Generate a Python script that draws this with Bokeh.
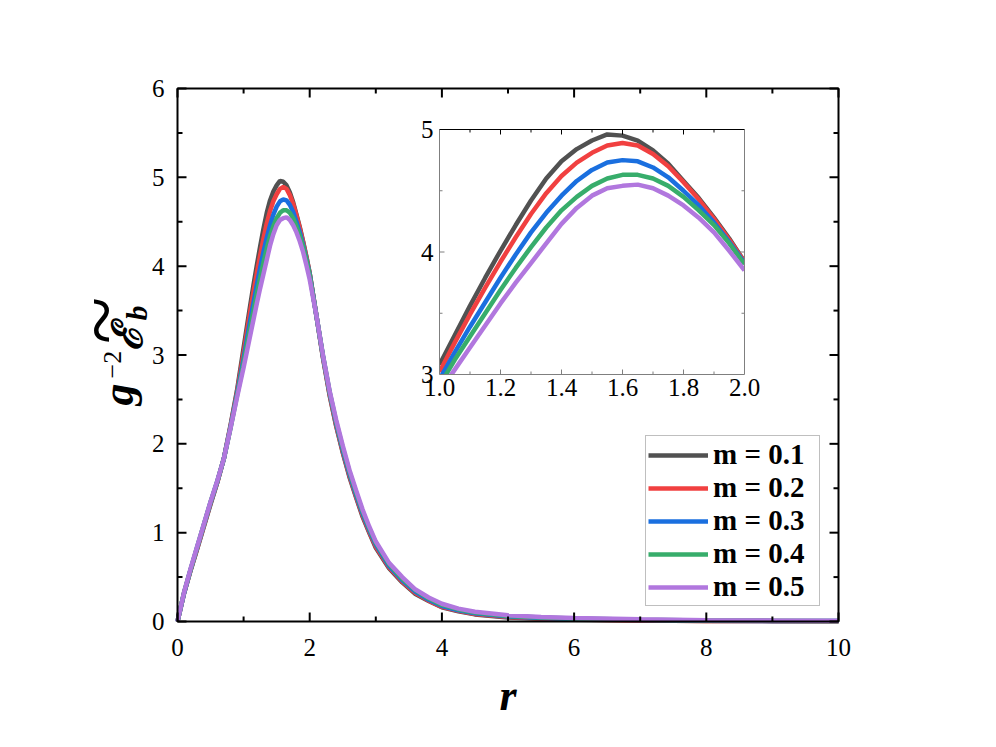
import math
from bokeh.plotting import figure
from bokeh.models import Legend, LegendItem, Range1d
from bokeh.core.properties import value
from bokeh.embed import file_html
from bokeh.resources import INLINE

# ---------------- data ----------------
r = [0, 0.1, 0.2, 0.3, 0.4, 0.5, 0.6, 0.7, 0.8, 0.9,
     1.0, 1.05, 1.1, 1.15, 1.2, 1.25, 1.3, 1.35, 1.4, 1.45,
     1.5, 1.55, 1.6, 1.65, 1.7, 1.75, 1.8, 1.85, 1.9, 1.95,
     2.0, 2.1, 2.2, 2.3, 2.4, 2.5, 2.6, 2.7, 2.8, 2.9,
     3.0, 3.2, 3.4, 3.6, 3.8, 4.0, 4.25, 4.5, 5.0, 5.5,
     6.0, 7.0, 8.0, 9.0, 10.0]

m01 = [0, 0.32, 0.58, 0.82, 1.07, 1.32, 1.56, 1.83, 2.20, 2.60,
       3.08, 3.32, 3.56, 3.79, 4.01, 4.22, 4.42, 4.60, 4.74, 4.84,
       4.91, 4.96, 4.95, 4.91, 4.83, 4.72, 4.58, 4.44, 4.28, 4.11,
       3.92, 3.45, 2.97, 2.55, 2.20, 1.90, 1.63, 1.40, 1.18, 1.00,
       0.83, 0.60, 0.44, 0.31, 0.23, 0.16, 0.115, 0.08, 0.045, 0.03,
       0.02, 0.01, 0.006, 0.004, 0.003]
m02 = [0, 0.32, 0.58, 0.83, 1.08, 1.33, 1.56, 1.83, 2.19, 2.58,
       3.02, 3.26, 3.49, 3.71, 3.92, 4.12, 4.31, 4.48, 4.62, 4.73,
       4.81, 4.87, 4.89, 4.87, 4.80, 4.70, 4.57, 4.43, 4.27, 4.10,
       3.92, 3.45, 2.98, 2.56, 2.21, 1.91, 1.645, 1.41, 1.195, 1.01,
       0.845, 0.61, 0.45, 0.32, 0.235, 0.165, 0.12, 0.085, 0.05, 0.033,
       0.023, 0.012, 0.007, 0.005, 0.004]
m03 = [0, 0.32, 0.59, 0.84, 1.09, 1.34, 1.57, 1.83, 2.18, 2.56,
       2.96, 3.18, 3.39, 3.59, 3.79, 3.98, 4.16, 4.32, 4.46, 4.58,
       4.67, 4.73, 4.75, 4.74, 4.69, 4.61, 4.50, 4.38, 4.24, 4.08,
       3.91, 3.45, 2.99, 2.58, 2.23, 1.93, 1.665, 1.43, 1.215, 1.03,
       0.865, 0.625, 0.465, 0.335, 0.245, 0.175, 0.127, 0.092, 0.055, 0.038,
       0.028, 0.016, 0.009, 0.006, 0.005]
m04 = [0, 0.33, 0.59, 0.845, 1.095, 1.345, 1.575, 1.83, 2.17, 2.54,
       2.91, 3.12, 3.31, 3.50, 3.69, 3.87, 4.04, 4.20, 4.34, 4.45,
       4.54, 4.60, 4.63, 4.63, 4.60, 4.54, 4.45, 4.34, 4.22, 4.07,
       3.90, 3.45, 2.995, 2.59, 2.25, 1.955, 1.69, 1.455, 1.24, 1.05,
       0.885, 0.645, 0.48, 0.35, 0.258, 0.187, 0.136, 0.10, 0.062, 0.044,
       0.033, 0.02, 0.012, 0.008, 0.006]
m05 = [0, 0.33, 0.60, 0.85, 1.10, 1.35, 1.58, 1.83, 2.17, 2.52,
       2.86, 3.04, 3.22, 3.40, 3.58, 3.75, 3.91, 4.07, 4.23, 4.36,
       4.46, 4.52, 4.54, 4.55, 4.52, 4.46, 4.38, 4.28, 4.16, 4.01,
       3.85, 3.45, 3.00, 2.60, 2.27, 1.98, 1.71, 1.48, 1.26, 1.07,
       0.90, 0.66, 0.50, 0.36, 0.27, 0.20, 0.145, 0.11, 0.07, 0.05,
       0.04, 0.025, 0.015, 0.01, 0.008]

series_names = ["m = 0.1", "m = 0.2", "m = 0.3", "m = 0.4", "m = 0.5"]
series_values = [m01, m02, m03, m04, m05]
colors = ["#515151", "#F14040", "#1A6FDF", "#37AD6B", "#B177DE"]

x_ticks = [0, 2, 4, 6, 8, 10]
x_minor = [1, 3, 5, 7, 9]
x_tick_labels = ["0", "2", "4", "6", "8", "10"]
y_ticks = [0, 1, 2, 3, 4, 5, 6]
y_minor = [0.5, 1.5, 2.5, 3.5, 4.5, 5.5]
y_tick_labels = ["0", "1", "2", "3", "4", "5", "6"]
ix_ticks = [1.0, 1.2, 1.4, 1.6, 1.8, 2.0]
ix_minor = [1.1, 1.3, 1.5, 1.7, 1.9]
ix_labels = ["1.0", "1.2", "1.4", "1.6", "1.8", "2.0"]
iy_ticks = [3, 4, 5]
iy_minor = [3.5, 4.5]
iy_labels = ["3", "4", "5"]

SERIF = "Liberation Serif"
GREY = "#7f7f7f"

# ---------------- layout constants (canvas pixels) ----------------
W, H = 975, 725
PX0, PX1, PY0, PY1 = 177, 838, 621, 88       # main axes box: left, right, bottom, top
IPX0, IPX1, IPY0, IPY1 = 439, 744, 374, 129  # inset box: left, right, bottom, top

x0, x1 = x_ticks[0], x_ticks[-1]
y0, y1 = y_ticks[0], y_ticks[-1]
sxu = (PX1 - PX0) / (x1 - x0)
syu = (PY0 - PY1) / (y1 - y0)


def X(px):
    return x0 + (px - PX0) / sxu


def Y(py):
    return y0 + (PY0 - py) / syu


p = figure(width=W, height=H,
           x_range=Range1d(X(0), X(W)), y_range=Range1d(Y(H), Y(0)),
           x_axis_location=None, y_axis_location=None,
           output_backend="svg", toolbar_location=None,
           min_border=0, min_border_left=0, min_border_right=0,
           min_border_top=0, min_border_bottom=0)
p.outline_line_color = None
p.background_fill_color = "white"
p.border_fill_color = "white"
p.grid.visible = False

# ---------------- main curves ----------------
items = []
for name, vals, c in zip(series_names, series_values, colors):
    rr = p.line(r, vals, line_color=c, line_width=4.5)
    items.append(LegendItem(label=name, renderers=[rr]))

# ---------------- main axes (box, ticks, labels) ----------------
p.quad(left=x0, right=x1, bottom=y0, top=y1, fill_color=None, line_color="black", line_width=2)
MJ, MN = 9, 5
for ticks, ln in ((x_ticks, MJ), (x_minor, MN)):
    n = len(ticks)
    p.segment(x0=ticks, y0=[y0] * n, x1=ticks, y1=[y0 + ln / syu] * n, line_color="black", line_width=2)
    p.segment(x0=ticks, y0=[y1] * n, x1=ticks, y1=[y1 - ln / syu] * n, line_color="black", line_width=2)
for ticks, ln in ((y_ticks, MJ), (y_minor, MN)):
    n = len(ticks)
    p.segment(x0=[x0] * n, y0=ticks, x1=[x0 + ln / sxu] * n, y1=ticks, line_color="black", line_width=2)
    p.segment(x0=[x1] * n, y0=ticks, x1=[x1 - ln / sxu] * n, y1=ticks, line_color="black", line_width=2)

p.text(x=x_ticks, y=[y0] * len(x_ticks), text=x_tick_labels, text_align="center",
       text_baseline="middle", y_offset=26, text_font=value(SERIF), text_font_size="25px",
       text_color="black")
p.text(x=[x0] * len(y_ticks), y=y_ticks, text=y_tick_labels, text_align="right",
       text_baseline="middle", x_offset=-13, text_font=value(SERIF), text_font_size="25px",
       text_color="black")

# x-axis title
p.text(x=[(x0 + x1) / 2], y=[Y(695)], text=["r"], text_align="center", text_baseline="middle",
       text_font=value(SERIF), text_font_style="bold italic", text_font_size="44px", text_color="black")


# y-axis title  g^{-2} \widetilde{E_b}  (rotated, composed of pieces)
def ylab(text, px, py, size, font=SERIF, style="normal", align="left"):
    p.text(x=[X(px)], y=[Y(py)], text=[text], angle=math.pi / 2, text_align=align,
           text_baseline="middle", text_font=value(font), text_font_style=style,
           text_font_size=size, text_color="black")


ylab("g", 118, 405, "44px", style="bold italic")
ylab("\u22122", 112, 378, "26px")
ylab("\u2130", 127, 350, "42px", font="DejaVu Serif", style="bold italic")
ylab("b", 136, 320, "30px", style="bold italic")
ylab("~", 101, 320, "88px", align="center")

# ---------------- legend ----------------
legend = Legend(items=items, location=(645, H - 606))
legend.label_text_font = SERIF
legend.label_text_font_style = "bold"
legend.label_text_font_size = "29px"
legend.label_text_color = "black"
legend.glyph_width = 60
legend.glyph_height = 32
legend.label_height = 32
legend.label_width = 104
legend.label_standoff = 5
legend.padding = 2
legend.spacing = 0
legend.margin = 0
legend.border_line_color = "#808080"
legend.border_line_width = 1
legend.background_fill_color = "white"
legend.background_fill_alpha = 1
p.add_layout(legend)

# ---------------- inset, on its own ranges ----------------
ix0, ix1 = ix_ticks[0], ix_ticks[-1]
iy0, iy1 = iy_ticks[0], iy_ticks[-1]
pxu = (IPX1 - IPX0) / (ix1 - ix0)
pyu = (IPY0 - IPY1) / (iy1 - iy0)
p.extra_x_ranges = {"ix": Range1d(ix0 - IPX0 / pxu, ix1 + (W - IPX1) / pxu)}
p.extra_y_ranges = {"iy": Range1d(iy0 - (H - IPY0) / pyu, iy1 + IPY1 / pyu)}
kw = dict(x_range_name="ix", y_range_name="iy")

p.quad(left=ix0, right=ix1, bottom=iy0, top=iy1, fill_color="white", line_color=None, **kw)

i_a = r.index(ix0)
i_b = r.index(ix1) + 1
for vals, c in zip(series_values, colors):
    p.line(r[i_a:i_b], vals[i_a:i_b], line_color=c, line_width=4.5, **kw)

# keep the inset curves inside the inset box
p.quad(left=ix0 - 6 / pxu, right=ix1 + 6 / pxu, bottom=iy0 - 30 / pyu, top=iy0,
       fill_color="white", line_color=None, **kw)
p.quad(left=ix0 - 12 / pxu, right=ix0, bottom=iy0 - 30 / pyu, top=iy0 + 20 / pyu,
       fill_color="white", line_color=None, **kw)
p.quad(left=ix1, right=ix1 + 6 / pxu, bottom=iy0 - 30 / pyu, top=iy1,
       fill_color="white", line_color=None, **kw)

p.segment(x0=[ix0, ix1, ix0], y0=[iy0, iy0, iy0], x1=[ix0, ix1, ix1], y1=[iy1, iy1, iy0],
          line_color=GREY, line_width=1, **kw)
p.segment(x0=[ix0], y0=[iy1], x1=[ix1], y1=[iy1], line_color="black", line_width=1, **kw)

IMJ, IMN = 5, 3
inner_x = ix_ticks[1:-1]
for ticks, ln in ((inner_x, IMJ), (ix_minor, IMN)):
    n = len(ticks)
    p.segment(x0=ticks, y0=[iy0] * n, x1=ticks, y1=[iy0 + ln / pyu] * n, line_color=GREY, line_width=1, **kw)
    p.segment(x0=ticks, y0=[iy1] * n, x1=ticks, y1=[iy1 - ln / pyu] * n, line_color="black", line_width=1, **kw)
inner_y = iy_ticks[1:-1]
for ticks, ln in ((inner_y, IMJ), (iy_minor, IMN)):
    n = len(ticks)
    p.segment(x0=[ix0] * n, y0=ticks, x1=[ix0 + ln / pxu] * n, y1=ticks, line_color=GREY, line_width=1, **kw)
    p.segment(x0=[ix1] * n, y0=ticks, x1=[ix1 - ln / pxu] * n, y1=ticks, line_color=GREY, line_width=1, **kw)

p.text(x=ix_ticks, y=[iy0] * len(ix_ticks), text=ix_labels, text_align="center",
       text_baseline="middle", y_offset=13, text_font=value(SERIF), text_font_size="25px",
       text_color="black", **kw)
p.text(x=[ix0] * len(iy_ticks), y=iy_ticks, text=iy_labels, text_align="right",
       text_baseline="middle", x_offset=-6, text_font=value(SERIF), text_font_size="25px",
       text_color="black", **kw)

open("out.html", "w").write(file_html(p, INLINE))
